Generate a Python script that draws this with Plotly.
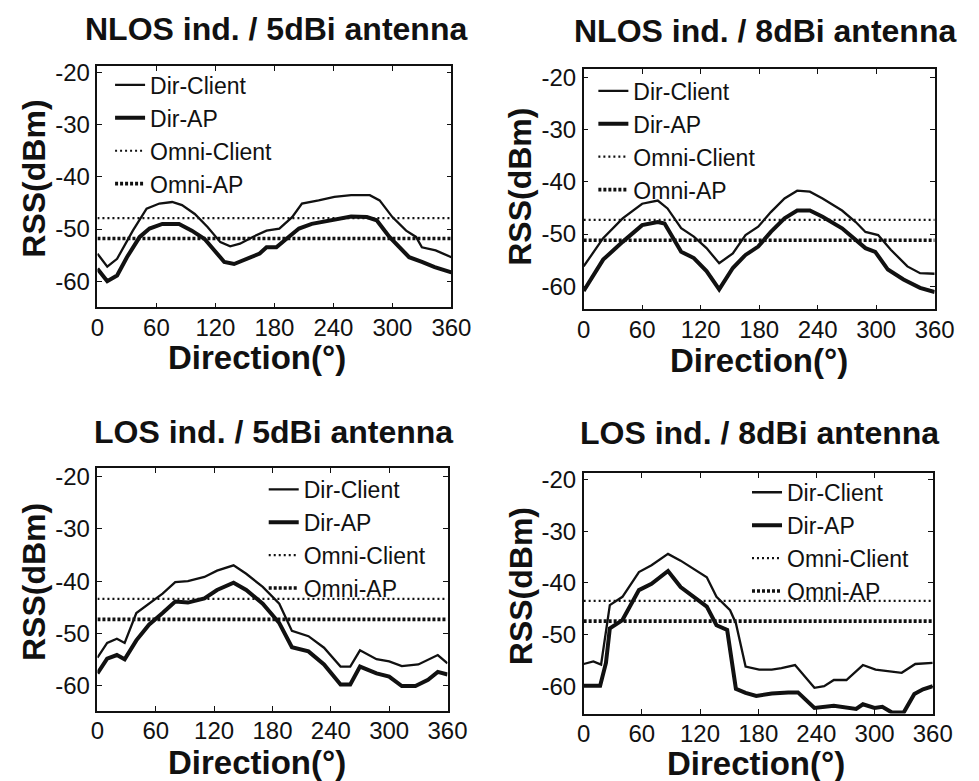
import plotly.graph_objects as go

# ---------------- data ----------------
directions = [0, 60, 120, 180, 240, 300, 360]
direction_labels = ["0", "60", "120", "180", "240", "300", "360"]
rss_ticks = [-60, -50, -40, -30, -20]
rss_labels = ["-60", "-50", "-40", "-30", "-20"]
series_names = ["Dir-Client", "Dir-AP", "Omni-Client", "Omni-AP"]
panel_titles = ["NLOS ind. / 5dBi antenna", "NLOS ind. / 8dBi antenna",
                "LOS ind. / 5dBi antenna", "LOS ind. / 8dBi antenna"]

# NLOS / 5dBi
nlos5_client_deg = [0, 10, 20, 36, 50, 63, 76, 86, 99, 112, 125, 135, 145, 158, 172, 185, 198, 208,
                    225, 241, 258, 277, 287, 300, 314, 324, 330, 344, 360]
nlos5_client_rss = [-54.7, -57.2, -55.7, -50.3, -46.1, -45.1, -44.8, -45.4, -47.1, -49.6, -52.5, -53.3,
                    -52.8, -51.5, -50.3, -49.9, -47.7, -45.1, -44.5, -43.8, -43.5, -43.5, -44.5, -47.7,
                    -50.3, -51.5, -53.5, -54.1, -55.4]
nlos5_ap_deg = [0, 10, 20, 30, 43, 53, 66, 83, 96, 109, 119, 129, 139, 152, 165, 172, 182, 192, 205,
                218, 238, 258, 274, 284, 297, 307, 317, 330, 343, 360]
nlos5_ap_rss = [-57.6, -60.0, -58.9, -55.4, -51.5, -49.9, -49.0, -49.0, -50.3, -51.9, -54.1, -56.3,
                -56.7, -55.7, -54.7, -53.5, -53.5, -51.9, -49.9, -49.0, -48.3, -47.6, -47.7, -48.3,
                -51.5, -53.5, -55.4, -56.3, -57.3, -58.3]
nlos5_omni_client = -47.9
nlos5_omni_ap = -51.8

# NLOS / 8dBi
nlos8_client_deg = [0, 20, 40, 60, 76, 86, 100, 113, 126, 139, 153, 166, 179, 192, 206, 219, 232, 245,
                    265, 279, 289, 302, 315, 332, 345, 360]
nlos8_client_rss = [-56.2, -50.8, -47.0, -44.2, -43.6, -45.1, -48.9, -50.5, -52.7, -55.6, -53.7, -50.2,
                    -48.6, -45.8, -43.2, -41.7, -41.9, -43.2, -45.5, -47.7, -49.6, -50.2, -53.0, -56.2,
                    -57.5, -57.6]
nlos8_ap_deg = [0, 20, 40, 60, 76, 83, 100, 113, 126, 139, 153, 166, 179, 192, 206, 219, 232, 245, 265,
                279, 289, 299, 312, 328, 345, 360]
nlos8_ap_rss = [-60.9, -54.9, -51.5, -48.3, -47.7, -48.0, -53.4, -54.6, -57.1, -60.6, -56.5, -54.0,
                -52.4, -49.6, -47.0, -45.5, -45.5, -46.7, -48.9, -51.1, -52.7, -53.4, -56.8, -58.7,
                -60.3, -61.1]
nlos8_omni_client = -47.3
nlos8_omni_ap = -51.2

# LOS / 5dBi
los5_client_deg = [0, 10, 20, 28, 40, 53, 67, 80, 93, 110, 123, 140, 153, 170, 187, 200, 217, 233, 250,
                   260, 270, 287, 300, 313, 330, 350, 360]
los5_client_rss = [-54.6, -51.8, -51.0, -51.8, -46.1, -44.3, -42.4, -40.2, -40.0, -39.2, -38.0, -37.0,
                   -38.6, -41.1, -44.3, -49.5, -50.5, -52.7, -56.3, -56.3, -53.2, -54.9, -55.3, -56.2,
                   -55.9, -54.1, -55.7]
los5_ap_deg = [0, 10, 20, 28, 40, 53, 67, 80, 93, 110, 123, 140, 153, 170, 187, 200, 217, 233, 250, 260,
               270, 287, 300, 313, 327, 340, 350, 360]
los5_ap_rss = [-57.6, -54.8, -54.1, -54.9, -51.3, -48.3, -46.1, -43.9, -44.1, -43.3, -41.7, -40.3, -41.7,
               -44.3, -48.0, -52.6, -53.4, -55.9, -59.7, -59.7, -56.3, -57.6, -58.2, -60.0, -60.0, -58.8,
               -57.3, -57.8]
los5_omni_client = -43.4
los5_omni_ap = -47.3

# LOS / 8dBi
los8_client_deg = [0, 10, 18, 27, 40, 57, 70, 87, 100, 114, 127, 137, 151, 157, 167, 181, 194, 204, 218,
                   238, 248, 258, 271, 288, 301, 328, 342, 360]
los8_client_rss = [-55.7, -55.2, -55.8, -44.3, -42.7, -37.9, -36.6, -34.4, -35.7, -37.3, -38.9, -42.7,
                   -45.3, -47.8, -56.2, -56.8, -56.8, -56.5, -55.9, -60.3, -60.0, -58.8, -58.8, -55.9,
                   -56.8, -57.4, -55.7, -55.5]
los8_ap_deg = [0, 17, 23, 27, 40, 57, 70, 87, 100, 114, 127, 137, 148, 157, 167, 178, 194, 211, 221, 238,
               258, 281, 288, 300, 308, 318, 330, 341, 350, 360]
los8_ap_rss = [-59.9, -59.9, -55.5, -48.8, -47.2, -41.4, -40.2, -37.7, -40.8, -42.7, -44.6, -48.2, -49.1,
               -60.5, -61.3, -61.9, -61.4, -61.2, -61.2, -64.2, -63.8, -64.4, -63.5, -64.2, -64.0, -65.1,
               -65.1, -61.5, -60.6, -60.0]
los8_omni_client = -43.5
los8_omni_ap = -47.4

panels = [
    (nlos5_client_deg, nlos5_client_rss, nlos5_ap_deg, nlos5_ap_rss, nlos5_omni_client, nlos5_omni_ap),
    (nlos8_client_deg, nlos8_client_rss, nlos8_ap_deg, nlos8_ap_rss, nlos8_omni_client, nlos8_omni_ap),
    (los5_client_deg, los5_client_rss, los5_ap_deg, los5_ap_rss, los5_omni_client, los5_omni_ap),
    (los8_client_deg, los8_client_rss, los8_ap_deg, los8_ap_rss, los8_omni_client, los8_omni_ap),
]

# ---------------- layout geometry (pixels) ----------------
W, H = 979, 781
FONT = "Liberation Sans, Arial, sans-serif"
INK = "#111111"

def px_x(v):
    return v / W

def px_y(v):
    return 1 - v / H

# (left, right, top, bottom) of each plot box, y range
boxes = [(93, 457, 60, 303), (593, 954, 63, 305), (93, 453, 465, 710), (593, 952, 470, 713)]
yranges = [[-65.0, -18.8], [-64.4, -18.5], [-64.7, -18.4], [-65.3, -18.7]]
legend_pos = [(106, 57), (603, 63), (264, 465), (761, 468)]
title_pos = [(277, 22), (779, 24), (274, 429), (774, 430)]
xlabel_pos = [(257, 354), (773, 357), (257, 762), (770, 763)]
ylabel_pos = [(28, 173), (528, 181), (28, 580), (528, 584)]

styles = [
    dict(color=INK, width=2.3),
    dict(color=INK, width=4.0),
    dict(color=INK, width=2.2, dash="2px,3px"),
    dict(color=INK, width=3.6, dash="3px,2px"),
]

fig = go.Figure()
layout = {}
annotations = []
for i, (cd, cr, ad, ar, oc, oa) in enumerate(panels):
    n = "" if i == 0 else str(i + 1)
    xa, ya = "x" + n, "y" + n
    lg = "legend" + n
    xs_list = [cd, ad, [directions[0], directions[-1]], [directions[0], directions[-1]]]
    ys_list = [cr, ar, [oc, oc], [oa, oa]]
    for k in range(4):
        fig.add_trace(go.Scatter(x=xs_list[k], y=ys_list[k], mode="lines", name=series_names[k],
                                 line=styles[k], xaxis=xa, yaxis=ya, legend=lg))
    l, r, t, b = boxes[i]
    axis_common = dict(showline=True, linecolor=INK, linewidth=1.5, mirror="ticks",
                       ticks="inside", ticklen=5, tickwidth=1.2, tickcolor=INK,
                       showgrid=False, zeroline=False,
                       tickfont=dict(family=FONT, size=24, color=INK))
    layout["xaxis" + n] = dict(domain=[px_x(l), px_x(r)], range=[0, 360], tickvals=directions,
                               ticktext=direction_labels, anchor=ya, ticklabelstandoff=-2,
                               **axis_common)
    layout["yaxis" + n] = dict(domain=[px_y(b), px_y(t)], range=yranges[i], tickvals=rss_ticks,
                               ticktext=rss_labels, anchor=xa, ticklabelstandoff=1, **axis_common)
    lx, ly = legend_pos[i]
    layout[lg] = dict(x=px_x(lx), y=px_y(ly), xanchor="left", yanchor="top",
                      bgcolor="rgba(0,0,0,0)", borderwidth=0, tracegroupgap=0,
                      font=dict(family=FONT, size=23, color=INK))
    tx, ty = title_pos[i]
    annotations.append(dict(text="<b>" + panel_titles[i] + "</b>", x=px_x(tx), y=px_y(ty),
                            xref="paper", yref="paper", xanchor="center", yanchor="middle",
                            showarrow=False, font=dict(family=FONT, size=32, color=INK)))
    bx, by = xlabel_pos[i]
    annotations.append(dict(text="<b>Direction(°)</b>", x=px_x(bx), y=px_y(by),
                            xref="paper", yref="paper", xanchor="center", yanchor="middle",
                            showarrow=False, font=dict(family=FONT, size=33, color=INK)))
    vx, vy = ylabel_pos[i]
    annotations.append(dict(text="<b>RSS(dBm)</b>", x=px_x(vx), y=px_y(vy), textangle=-90,
                            xref="paper", yref="paper", xanchor="center", yanchor="middle",
                            showarrow=False, font=dict(family=FONT, size=32, color=INK)))

fig.update_layout(width=W, height=H, margin=dict(l=0, r=0, t=0, b=0),
                  paper_bgcolor="white", plot_bgcolor="white",
                  font=dict(family=FONT, color=INK), annotations=annotations, **layout)

fig.write_html("out.html", config={"displayModeBar": False},
               post_script="document.body.style.margin='0';document.body.style.overflow='hidden';")
